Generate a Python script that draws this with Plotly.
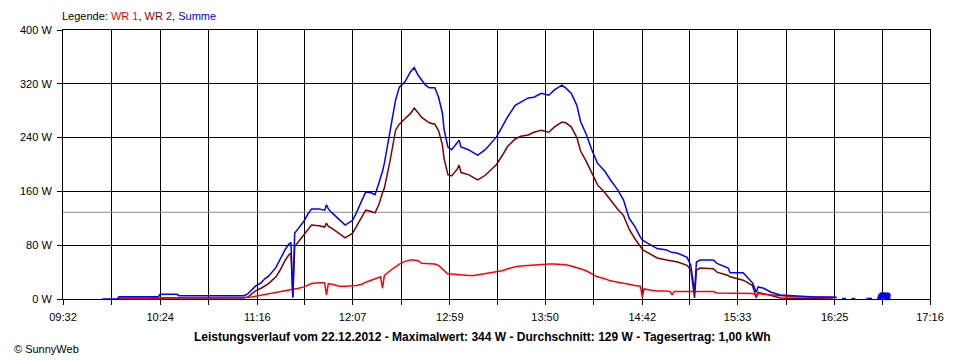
import plotly.graph_objects as go

# ---------------- data ----------------
TIME = ["09:53", "10:01", "10:02", "10:18", "10:19", "10:23", "10:24", "10:33", "10:34", "10:50",
        "10:51", "10:56", "10:57", "11:09", "11:11", "11:13", "11:15", "11:18", "11:20", "11:22",
        "11:24", "11:26", "11:28", "11:31", "11:33", "11:34", "11:35", "11:36", "11:38", "11:41",
        "11:43", "11:45", "11:49", "11:52", "11:53", "11:54", "11:56", "12:00", "12:03", "12:07",
        "12:09", "12:12", "12:14", "12:17", "12:19", "12:21", "12:22", "12:23", "12:24", "12:27",
        "12:30", "12:32", "12:35", "12:38", "12:40", "12:42", "12:44", "12:46", "12:48", "12:51",
        "12:53", "12:55", "12:56", "12:58", "13:00", "13:03", "13:04", "13:05", "13:09", "13:12",
        "13:14", "13:18", "13:21", "13:24", "13:27", "13:30", "13:34", "13:37", "13:41", "13:44",
        "13:48", "13:52", "13:55", "13:59", "14:01", "14:04", "14:07", "14:09", "14:12", "14:15",
        "14:18", "14:22", "14:25", "14:29", "14:32", "14:35", "14:38", "14:41", "14:42", "14:43",
        "14:47", "14:50", "14:55", "14:57", "14:58", "14:59", "15:01", "15:06", "15:08", "15:10",
        "15:11", "15:13", "15:20", "15:22", "15:28", "15:29", "15:36", "15:38", "15:41", "15:43",
        "15:44", "15:47", "15:51", "15:56", "16:03", "16:14", "16:24", "16:26", "16:27", "16:29",
        "16:31", "16:32", "16:34", "16:36", "16:37", "16:42", "16:45", "16:46",
        "16:48:00", "16:48:20", "16:48:40", "16:49:00", "16:49:20", "16:49:40", "16:50:00",
        "16:50:20", "16:50:40", "16:51:00", "16:51:20", "16:51:40", "16:52:00", "16:52:20",
        "16:52:40", "16:53:00", "16:53:20", "16:53:40", "16:54:00", "16:54:20", "16:54:40"]

WR1 = [None, 0, 1.5, 1.5, 1.5, 1.5, 1.5, 1.5, 1.5, 1.5,
       1.5, 1.5, 1.5, 2, 2.5, 3, 4, 5, 7, 8,
       9, 10, 11, 12, 13, 14, 14, 15, 16, 18,
       20, 23, 24, 24, 6, 23, 22, 19, 19, 19,
       20, 22, 25, 28, 30, 32, 33, 16, 35, 42,
       48, 52, 56, 58, 58, 57, 53, 53, 52, 52,
       50, 45, 41, 37, 37, 36, 36, 36, 35, 35,
       36, 37, 39, 41, 42, 45, 48, 49, 50, 51,
       51, 52, 52, 51, 51, 49, 47, 45, 42, 37,
       33, 30, 27, 25, 24, 22, 20, 19, 3, 15,
       13, 12, 12, 11, 6, 11, 11, 11, 11, 10,
       11, 11, 11, 9, 9, 9, 9, 8, 8, 6,
       8, 7, 6, 4.5, 3.5, 3, 2.5, 2, None, None,
       None, None, None, None, None, None, None, None,
       None, None, None, None, None, None, None,
       None, None, None, None, None, None, None,
       None, None, None, None, None, None, None]

WR2 = [None, 0, 0.5, 0.5, 1.2, 1.2, 1.5, 1.5, 1.5, 1.5,
       2.5, 2.5, 1.5, 1.5, 3, 8, 12, 16, 19, 23,
       28, 33, 42, 58, 66, 68, 3, 78, 85, 95,
       103, 110, 109, 107, 113, 108, 105, 97, 91, 98,
       108, 122, 132, 130, 128, 140, 150, 158, 165, 205,
       251, 260, 268, 276, 284, 277, 270, 266, 262, 260,
       250, 230, 208, 185, 183, 193, 199, 188, 185, 180,
       177, 184, 192, 200, 213, 227, 238, 242, 244, 248,
       251, 248, 256, 263, 262, 256, 240, 220, 205, 187,
       170, 158, 147, 133, 124, 104, 90, 77, 74, 72,
       65, 61, 58, 57, 56, 56, 55, 50, 43, 1.5,
       43, 46, 45, 40, 35, 33, 28, 25, 20, 2,
       10, 8, 5, 1.5, 1, 0.5, 0, None, None, None,
       None, None, None, None, None, None, None, None,
       None, None, None, None, None, None, None,
       None, None, None, None, None, None, None,
       None, None, None, None, None, None, None]

SUMME = [0, 0, 3.5, 3.5, 3.5, 3.5, 7, 7, 5, 5,
         5.5, 5.5, 5, 5, 8, 13, 19, 24, 30, 34,
         40, 47, 58, 74, 82, 84, 2, 98, 105, 116,
         126, 134, 134, 132, 140, 134, 128, 117, 110, 117,
         128, 147, 159, 158, 155, 172, 180, 190, 202, 247,
         296, 315, 323, 338, 344, 333, 326, 318, 314, 314,
         300, 277, 251, 226, 222, 232, 236, 226, 222, 217,
         214, 222, 232, 241, 256, 271, 288, 293, 299, 300,
         306, 303, 311, 318, 314, 306, 288, 264, 245, 222,
         202, 190, 177, 162, 147, 120, 108, 92, 88, 86,
         80, 75, 73, 70, 69, 69, 68, 62, 50, 10,
         55, 58, 58, 53, 46, 39, 39, 33, 24, 10,
         18, 16, 10, 6, 4.5, 3, 3, 2.5, None, 0.8,
         0.8, None, 0.8, 0.8, None, 0.8, 0.8, None,
         3, 0, 7, 0, 9, 0, 10,
         0, 9, 1, 10, 0, 10, 0,
         9, 0, 10, 0, 9, 0, 8]

TICK_LABELS = ["09:32", "10:24", "11:16", "12:07", "12:59", "13:50", "14:42", "15:33", "16:25", "17:16"]
Y_TICKS = [0, 80, 160, 240, 320, 400]
AVERAGE_W = 129
TITLE = ("Leistungsverlauf vom 22.12.2012 - Maximalwert: 344 W - "
         "Durchschnitt: 129 W - Tagesertrag: 1,00 kWh")

C_WR1 = "#FF0000"
C_WR2 = "#800000"
C_SUM = "#0000FF"


def to_min(s):
    parts = [float(p) for p in s.split(":")]
    m = parts[0] * 60 + parts[1]
    if len(parts) > 2:
        m += parts[2] / 60.0
    return m


x = [to_min(t) for t in TIME]
label_pos = [to_min(t) for t in TICK_LABELS]
tickvals, ticktext = [], []
for i, p in enumerate(label_pos):
    tickvals.append(p)
    ticktext.append(TICK_LABELS[i])
    if i < len(label_pos) - 1:
        tickvals.append((p + label_pos[i + 1]) / 2)
        ticktext.append("")

FONT = "Liberation Sans, Arial, sans-serif"

fig = go.Figure()
fig.add_trace(go.Scatter(x=x, y=WR2, mode="lines", name="WR 2",
                         line=dict(color=C_WR2, width=1.5), connectgaps=False))
fig.add_trace(go.Scatter(x=x, y=WR1, mode="lines", name="WR 1",
                         line=dict(color=C_WR1, width=1.5), connectgaps=False))
fig.add_trace(go.Scatter(x=x, y=SUMME, mode="lines", name="Summe",
                         line=dict(color=C_SUM, width=1.5), connectgaps=False))

fig.add_shape(type="line", xref="x", yref="y", x0=label_pos[0], x1=label_pos[-1],
              y0=AVERAGE_W, y1=AVERAGE_W, line=dict(color="#8c8c8c", width=1),
              layer="between")

# page body has an 8px margin; plot area in window pixels: x 60..930, y 30..299
OFF = 8
PL, PR, PT, PB = 60, 930, 30, 299
W, H = 960 - OFF, 360 - OFF
L = PL - OFF
T = PT - OFF
R = W - (PR - OFF)
B = H - (PB - OFF)
pw, ph = PR - PL, PB - PT


def px_x(p):
    return (p - PL) / pw


def px_y(p):
    return (PB - p) / ph


fig.add_annotation(xref="paper", yref="paper", x=px_x(57), y=px_y(16),
                   xanchor="left", yanchor="middle", showarrow=False,
                   text=("Legende: <span style='color:%s'>WR 1</span>, "
                         "<span style='color:%s'>WR 2</span>, "
                         "<span style='color:%s'>Summe</span>") % (C_WR1, C_WR2, C_SUM),
                   font=dict(family=FONT, size=11, color="black"))
fig.add_annotation(xref="paper", yref="paper", x=px_x(481), y=px_y(337),
                   xanchor="center", yanchor="middle", showarrow=False,
                   text="<b>" + TITLE + "</b>",
                   font=dict(family=FONT, size=12, color="black"))
fig.add_annotation(xref="paper", yref="paper", x=px_x(OFF + 1), y=px_y(349),
                   xanchor="left", yanchor="middle", showarrow=False,
                   text="© SunnyWeb",
                   font=dict(family=FONT, size=11, color="black"))

fig.update_layout(
    width=W, height=H, autosize=False,
    margin=dict(l=L, r=R, t=T, b=B, pad=0),
    paper_bgcolor="white", plot_bgcolor="white",
    showlegend=False,
    font=dict(family=FONT, size=11, color="black"),
    xaxis=dict(range=[label_pos[0], label_pos[-1]], tickmode="array",
               tickvals=tickvals, ticktext=ticktext,
               showgrid=True, gridcolor="black", gridwidth=1,
               ticks="outside", ticklen=5, tickcolor="black", tickwidth=1,
               showline=True, linecolor="black", linewidth=1, mirror=True,
               zeroline=False, ticklabelstandoff=3,
               tickfont=dict(family=FONT, size=11, color="black")),
    yaxis=dict(range=[0, 400], tickmode="array", tickvals=Y_TICKS,
               ticktext=["%d W" % v for v in Y_TICKS],
               showgrid=True, gridcolor="black", gridwidth=1,
               ticks="outside", ticklen=5, tickcolor="black", tickwidth=1,
               showline=True, linecolor="black", linewidth=1, mirror=True,
               zeroline=False, ticklabelstandoff=3,
               tickfont=dict(family=FONT, size=11, color="black")),
)

fig.write_html("out.html")
